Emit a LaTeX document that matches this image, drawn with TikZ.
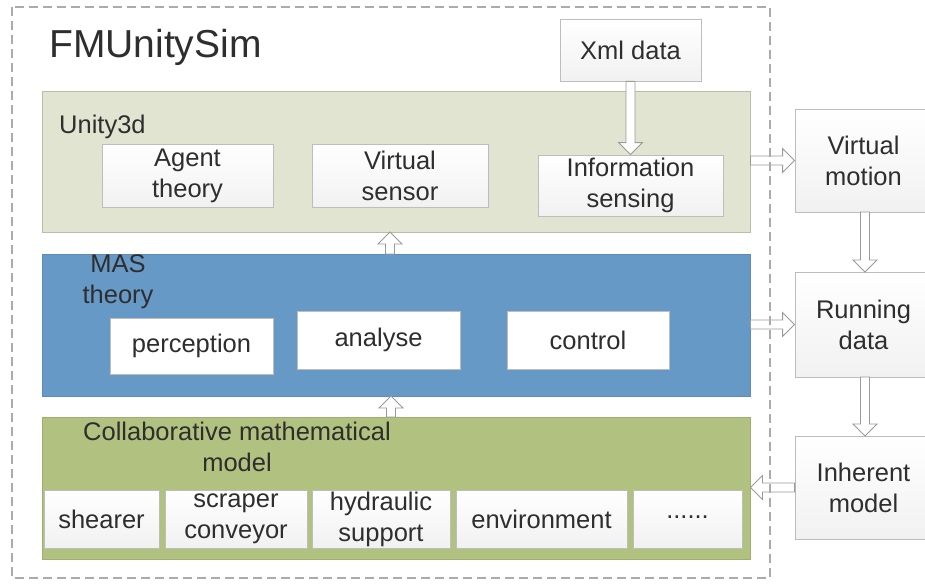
\documentclass[tikz,border=0pt]{standalone}
\usepackage{fontspec}
\setmainfont{Liberation Sans}
\usetikzlibrary{calc}
\definecolor{txt}{HTML}{2E2E2E}
\definecolor{unityfill}{HTML}{E0E4D0}
\definecolor{unityline}{HTML}{B9BDA9}
\definecolor{masfill}{HTML}{6799C7}
\definecolor{masline}{HTML}{5C8BB6}
\definecolor{colfill}{HTML}{B1C17F}
\definecolor{colline}{HTML}{9EAE6E}
\definecolor{boxline}{HTML}{BDBDBD}
\definecolor{arrowgray}{HTML}{9A9A9A}
\definecolor{dashgray}{HTML}{ABABAB}
\tikzset{
  txtfont/.style={font=\fontsize{25.5}{31}\selectfont, text=txt},
  layer/.style={rectangle, line width=1pt, inner sep=0pt},
  wbox/.style={rectangle, draw=boxline, line width=0.9pt, top color=white, bottom color=gray!11,
    txtfont, align=center, inner sep=0pt},
  plainbox/.style={rectangle, draw=boxline, line width=0.9pt, fill=white,
    txtfont, align=center, inner sep=0pt},
  hol/.style={draw=arrowgray, fill=white, line width=0.9pt, line join=miter,
    to path={
      ($(\tikztotarget)!12pt!(\tikztostart)$) coordinate (hN)
      ($(\tikztostart)!4.5pt!90:(\tikztotarget)$) -- ($(hN)!4.5pt!90:(\tikztotarget)$)
      -- ($(hN)!12pt!90:(\tikztotarget)$) -- (\tikztotarget)
      -- ($(hN)!12pt!-90:(\tikztotarget)$) -- ($(hN)!4.5pt!-90:(\tikztotarget)$)
      -- ($(\tikztostart)!4.5pt!-90:(\tikztotarget)$) -- cycle}},
}
\begin{document}
\begin{tikzpicture}[x=1pt, y=-1pt]
\useasboundingbox (0,0) rectangle (925,583);
\begin{scope}
\clip (0,0) rectangle (925,583);

% layers
\node[layer, draw=unityline, fill=unityfill, minimum width=708pt, minimum height=140pt] (unity) at (396,162) {};
\node[layer, draw=masline, fill=masfill, minimum width=708pt, minimum height=142pt] (mas) at (396,325) {};
\node[layer, draw=colline, fill=colfill, minimum width=708pt, minimum height=142pt] (collab) at (396,488) {};

% title and layer labels
\node[anchor=west, font=\fontsize{39}{44}\selectfont, text=txt, inner sep=0pt] (title) at (49,47) {FMUnitySim};
\node[anchor=west, txtfont, inner sep=0pt] (ulabel) at (59,127) {Unity3d};
\node[txtfont, align=center, inner sep=0pt] (mlabel) at (118,282) {MAS\\theory};
\node[txtfont, align=center, inner sep=0pt] (clabel) at (237,447) {Collaborative mathematical\\model};

% Unity3d boxes
\node[wbox, minimum width=171pt, minimum height=63pt] (agent) at (187.5,175.5) {Agent\\theory};
\node[wbox, minimum width=176pt, minimum height=63pt] (vsens) at (400,175.5) {Virtual\\sensor};
\node[wbox, minimum width=185pt, minimum height=61pt] (info) at (630.5,185.5) {Information\\sensing};
\node[wbox, minimum width=141pt, minimum height=62pt] (xml) at (630.5,50) {Xml data};

% MAS boxes
\node[plainbox, minimum width=163pt, minimum height=56pt] (perc) at (191.5,346) {perception};
\node[plainbox, minimum width=163pt, minimum height=58pt] (anal) at (378.5,340) {analyse};
\node[plainbox, minimum width=162pt, minimum height=58pt] (ctrl) at (588,340) {control};

% Collaborative model boxes
\node[wbox, minimum width=115pt, minimum height=58pt] (shear) at (101.5,519) {shearer};
\node[wbox, minimum width=142pt, minimum height=58pt] (scrap) at (236,519) {scraper\\conveyor};
\node[wbox, minimum width=138pt, minimum height=58pt] (hydr) at (381,519) {hydraulic\\support};
\node[wbox, minimum width=171pt, minimum height=58pt] (env) at (541.5,519) {environment};
\node[wbox, minimum width=109pt, minimum height=58pt] (dots) at (687.5,519) {\raisebox{0.3ex}{......}};

% right column
\node[wbox, minimum width=137pt, minimum height=103pt] (vm) at (863.5,160.5) {Virtual\\motion};
\node[wbox, minimum width=137pt, minimum height=105pt] (rd) at (863.5,324.5) {Running\\data};
\node[wbox, minimum width=137pt, minimum height=103pt] (im) at (863.5,487.5) {Inherent\\model};

% connector end points
\coordinate (u2vm) at (unity.east |- vm.west);
\coordinate (m2rd) at (mas.east |- rd.west);
\coordinate (c2im) at (collab.east |- im.west);
\coordinate (m2u) at (390,254);
\coordinate (m2uT) at (390,232);
\coordinate (c2m) at (391,417);
\coordinate (c2mT) at (391,396);
\coordinate (vmS) at (865,212);
\coordinate (rdN) at (865,272);
\coordinate (rdS) at (865,377);
\coordinate (imN) at (865,436);

% arrows
\draw[hol] (xml.south) to (info.north);
\draw[hol] (u2vm) to (vm.west);
\draw[hol] (m2rd) to (rd.west);
\draw[hol] (im.west) to (c2im);
\draw[hol] (vmS) to (rdN);
\draw[hol] (rdS) to (imN);
\draw[hol] (m2u) to (m2uT);
\draw[hol] (c2m) to (c2mT);

% dashed frame
\draw[dashgray, line width=1.4pt, dash pattern=on 9pt off 5pt] (12,7) rectangle (770,578);
\end{scope}
\end{tikzpicture}
\end{document}
